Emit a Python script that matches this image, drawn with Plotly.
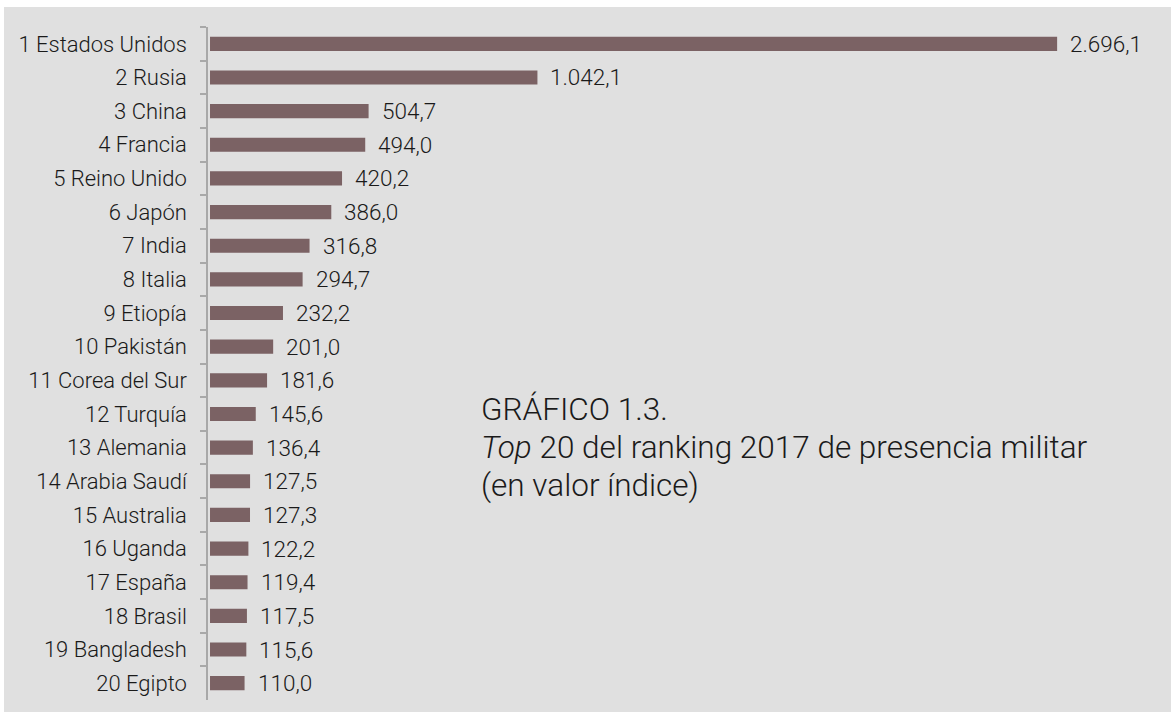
import plotly.graph_objects as go

paises = ["1 Estados Unidos", "2 Rusia", "3 China", "4 Francia", "5 Reino Unido",
          "6 Japón", "7 India", "8 Italia", "9 Etiopía", "10 Pakistán",
          "11 Corea del Sur", "12 Turquía", "13 Alemania", "14 Arabia Saudí",
          "15 Australia", "16 Uganda", "17 España", "18 Brasil", "19 Bangladesh",
          "20 Egipto"]
valores = [2696.1, 1042.1, 504.7, 494.0, 420.2, 386.0, 316.8, 294.7, 232.2, 201.0,
           181.6, 145.6, 136.4, 127.5, 127.3, 122.2, 119.4, 117.5, 115.6, 110.0]
titulo = ["GRÁFICO 1.3.",
          "<i>Top</i> 20 del ranking 2017 de presencia militar",
          "(en valor índice)"]


def fmt_es(v):
    s = f"{v:,.1f}"
    return s.replace(",", "X").replace(".", ",").replace("X", ".")


W, H = 1171, 716
L, R, T, B = 208, 41, 27, 16
pw, ph = W - L - R, H - T - B


def px2x(p):
    return (p - L) / pw


def px2y(p):
    return (H - B - p) / ph


FONT = "Roboto Light, Roboto, sans-serif"
TXT = "#1a1a1a"

fig = go.Figure()
fig.add_trace(go.Bar(
    x=valores, y=paises, orientation="h",
    marker=dict(color="#7b6264", line=dict(width=0)),
    width=0.42, hoverinfo="skip",
))

annotations = []
for p, v in zip(paises, valores):
    annotations.append(dict(
        x=v, y=p, xref="x", yref="y", text=fmt_es(v), showarrow=False,
        xanchor="left", yanchor="middle", xshift=11,
        font=dict(family=FONT, size=22.5, color=TXT, weight=300),
    ))

for i, (line, yc) in enumerate(zip(titulo, [409, 447, 485])):
    annotations.append(dict(
        xref="paper", yref="paper", x=px2x(479), y=px2y(yc),
        xanchor="left", yanchor="middle", align="left", showarrow=False,
        text=line,
        font=dict(family=FONT, size=31.5, color=TXT, weight=300),
    ))

fig.update_layout(
    width=W, height=H,
    margin=dict(l=L, r=R, t=T, b=B, pad=0),
    paper_bgcolor="white",
    plot_bgcolor="rgba(0,0,0,0)",
    showlegend=False,
    annotations=annotations,
    shapes=[dict(type="rect", xref="paper", yref="paper",
                 x0=px2x(4), x1=px2x(1171), y0=px2y(712), y1=px2y(7),
                 fillcolor="#e0e0e0", line=dict(width=0), layer="below")],
    xaxis=dict(range=[-6.4, -6.4 + pw / 0.3142], visible=False, fixedrange=True),
    yaxis=dict(
        categoryorder="array", categoryarray=paises, autorange="reversed",
        showline=True, linecolor="#a8a8a8", linewidth=1.5,
        ticks="outside", tickson="boundaries", ticklen=6, tickcolor="#a8a8a8", tickwidth=1.5,
        ticklabelstandoff=15,
        showgrid=False, zeroline=False, fixedrange=True,
        tickfont=dict(family=FONT, size=22, color=TXT, weight=300),
    ),
)

fig.write_html("out.html", config={"displayModeBar": False},
               post_script="document.body.style.margin='0';")
